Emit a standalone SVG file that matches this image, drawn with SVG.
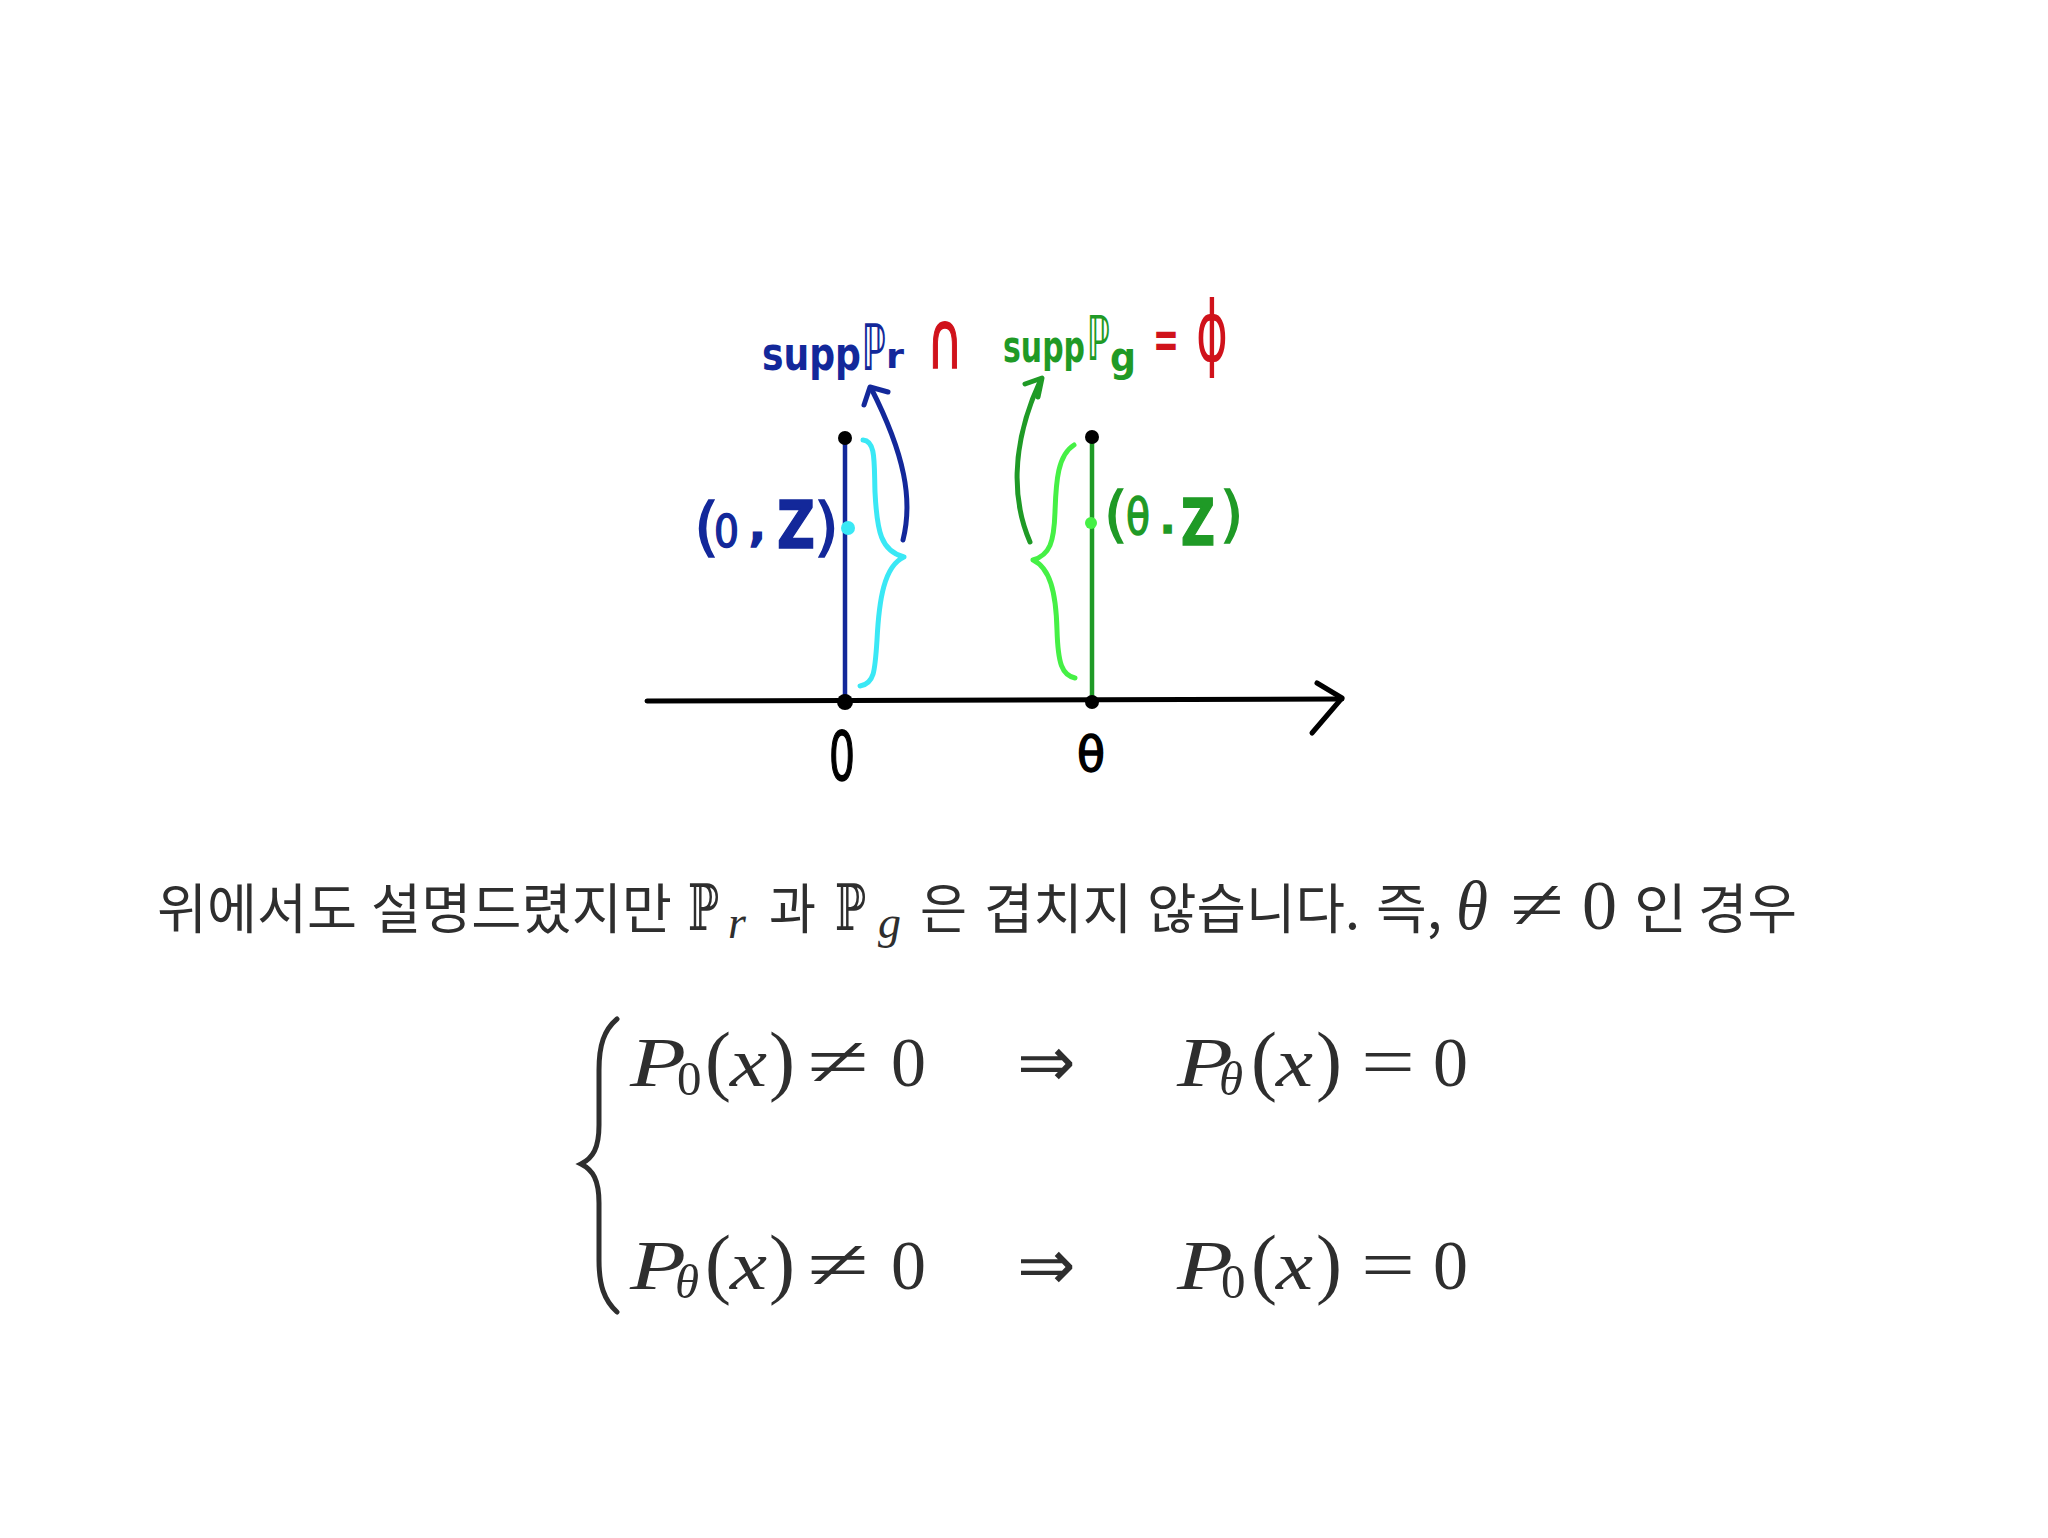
<svg xmlns="http://www.w3.org/2000/svg" width="2048" height="1538" viewBox="0 0 2048 1538">
<style>
.hw{font-family:"DejaVu Sans",sans-serif}
.b{font-weight:bold}
.ko{font-family:"Noto Sans CJK KR","Noto Sans",sans-serif;font-size:54px;fill:#2e2e2e}
.m{font-family:"Liberation Serif",serif;fill:#2e2e2e}
.mi{font-family:"Liberation Serif",serif;font-style:italic;fill:#2e2e2e}
.ms{font-family:"DejaVu Sans",sans-serif;fill:#2e2e2e}
.bb{font-family:"DejaVu Serif",serif;fill:#2e2e2e}
.st{fill:none;stroke-linecap:round;stroke-linejoin:round}
</style>
<rect width="2048" height="1538" fill="#ffffff"/>

<g id="connectors">
  <path class="st" d="M647,701 L1342,699" stroke="#000" stroke-width="5"/>
  <path class="st" d="M1317,683 L1342,698 L1312,733" stroke="#000" stroke-width="5"/>
  <path class="st" d="M845,438 L845,701" stroke="#13289a" stroke-width="4.5"/>
  <path class="st" d="M1092,437 L1092,701" stroke="#1f9a26" stroke-width="4.5"/>
  <path class="st" d="M863,440 C876,441 874,462 875,492 C877,532 881,551 904,557 C884,566 879,600 877,640 C875,672 874,684 860,686" stroke="#3ae8f5" stroke-width="5"/>
  <path class="st" d="M1074,445 C1058,455 1056,480 1055,512 C1054,542 1050,555 1033,560 C1050,568 1056,592 1057,630 C1058,664 1062,675 1075,678" stroke="#45f045" stroke-width="5"/>
  <path class="st" d="M903,540 C913,500 905,455 871,388" stroke="#13289a" stroke-width="5"/>
  <path class="st" d="M864,405 L870,387 L888,392" stroke="#13289a" stroke-width="5"/>
  <path class="st" d="M1030,542 C1014,505 1008,450 1041,379" stroke="#1f9a26" stroke-width="5"/>
  <path class="st" d="M1025,384 L1042,378 L1038,397" stroke="#1f9a26" stroke-width="5"/>
</g>

<g id="node-origin">
  <circle cx="845" cy="438" r="7" fill="#000"/>
  <circle cx="845" cy="702" r="8" fill="#000"/>
  <circle cx="848" cy="528" r="7" fill="#3ae8f5"/>
  <text class="hw" x="829" y="780" font-size="68" textLength="26" lengthAdjust="spacingAndGlyphs" fill="#000" stroke="#000" stroke-width="1.5">0</text>
</g>

<g id="node-theta">
  <circle cx="1092" cy="437" r="7" fill="#000"/>
  <circle cx="1092" cy="702" r="7" fill="#000"/>
  <circle cx="1091" cy="523" r="6" fill="#45f045"/>
  <text class="hw" x="1077" y="771" font-size="48" textLength="28" lengthAdjust="spacingAndGlyphs" fill="#000" stroke="#000" stroke-width="1.5">θ</text>
</g>

<g id="label-0Z" fill="#13289a" stroke="#13289a" stroke-width="1.5">
  <text class="hw" x="694" y="549" font-size="64">(</text>
  <text class="hw" x="714" y="547" font-size="44" textLength="25" lengthAdjust="spacingAndGlyphs">0</text>
  <text class="hw b" x="749" y="541" font-size="44">,</text>
  <text class="hw b" x="777" y="548" font-size="66" textLength="38" lengthAdjust="spacingAndGlyphs">Z</text>
  <text class="hw" x="814" y="549" font-size="64">)</text>
</g>

<g id="label-thetaZ" fill="#1f9a26" stroke="#1f9a26" stroke-width="1.5">
  <text class="hw" x="1104" y="535" font-size="60">(</text>
  <text class="hw" x="1126" y="534" font-size="50" textLength="24" lengthAdjust="spacingAndGlyphs">θ</text>
  <text class="hw b" x="1160" y="533" font-size="40">.</text>
  <text class="hw b" x="1181" y="545" font-size="64" textLength="34" lengthAdjust="spacingAndGlyphs">Z</text>
  <text class="hw" x="1220" y="535" font-size="60">)</text>
</g>

<g id="title">
  <text class="hw b" fill="#13289a"><tspan x="762" y="370" font-size="46" textLength="99" lengthAdjust="spacingAndGlyphs">supp</tspan><tspan x="862" y="370" font-size="64" textLength="24" lengthAdjust="spacingAndGlyphs">ℙ</tspan><tspan x="886" y="368" font-size="34" textLength="18" lengthAdjust="spacingAndGlyphs">r</tspan></text>
  <text class="hw" x="927" y="368" font-size="80" textLength="36" lengthAdjust="spacingAndGlyphs" fill="#d0121b" stroke="#d0121b" stroke-width="1.5">∩</text>
  <text class="hw b" fill="#1f9a26"><tspan x="1003" y="362" font-size="44" textLength="82" lengthAdjust="spacingAndGlyphs">supp</tspan><tspan x="1087" y="360" font-size="62" textLength="23" lengthAdjust="spacingAndGlyphs">ℙ</tspan><tspan x="1110" y="371" font-size="40" textLength="26" lengthAdjust="spacingAndGlyphs">g</tspan></text>
  <text class="hw b" fill="#d0121b"><tspan x="1153" y="358" font-size="54" textLength="26" lengthAdjust="spacingAndGlyphs">=</tspan><tspan x="1196" y="361" font-size="84" textLength="32" lengthAdjust="spacingAndGlyphs" font-weight="normal">ϕ</tspan></text>
</g>

<g id="sentence">
  <text class="ko" x="157" y="929" textLength="200" lengthAdjust="spacingAndGlyphs">위에서도</text>
  <text class="ko" x="371" y="929" textLength="301" lengthAdjust="spacingAndGlyphs">설명드렸지만</text>
  <text class="bb" x="688" y="930" font-size="64" textLength="31" lengthAdjust="spacingAndGlyphs">ℙ</text>
  <text class="mi" x="728" y="938" font-size="46">r</text>
  <text class="ko" x="769" y="929" textLength="47" lengthAdjust="spacingAndGlyphs">과</text>
  <text class="bb" x="835" y="930" font-size="64" textLength="31" lengthAdjust="spacingAndGlyphs">ℙ</text>
  <text class="mi" x="878" y="938" font-size="46">g</text>
  <text class="ko" x="920" y="929" textLength="47" lengthAdjust="spacingAndGlyphs">은</text>
  <text class="ko" x="984" y="929" textLength="148" lengthAdjust="spacingAndGlyphs">겹치지</text>
  <text class="ko" x="1147" y="929" textLength="213" lengthAdjust="spacingAndGlyphs">않습니다.</text>
  <text class="ko" x="1376" y="929" textLength="66" lengthAdjust="spacingAndGlyphs">즉,</text>
  <text class="mi" x="1456" y="929" font-size="70" textLength="32" lengthAdjust="spacingAndGlyphs">θ</text>
  <text class="m" x="1510" y="929" font-size="72" textLength="54" lengthAdjust="spacingAndGlyphs">≠</text>
  <text class="m" x="1582" y="929" font-size="70">0</text>
  <text class="ko" x="1634" y="929" textLength="53" lengthAdjust="spacingAndGlyphs">인</text>
  <text class="ko" x="1698" y="929" textLength="99" lengthAdjust="spacingAndGlyphs">경우</text>
</g>

<g id="cases">
  <path d="M617,1019 C604,1030 599,1045 599,1070 L599,1125 C599,1148 593,1158 581,1164 C593,1170 599,1180 599,1203 L599,1260 C599,1285 604,1300 617,1312" fill="none" stroke="#2e2e2e" stroke-width="5" stroke-linecap="round"/>
  <g id="row1">
    <text class="mi" x="630" y="1086" font-size="70" textLength="56" lengthAdjust="spacingAndGlyphs">P</text>
    <text class="m" x="677" y="1095" font-size="49">0</text>
    <text class="m" x="705" y="1086" font-size="78">(</text>
    <text class="mi" x="730" y="1086" font-size="70" textLength="37" lengthAdjust="spacingAndGlyphs">x</text>
    <text class="m" x="769" y="1086" font-size="78">)</text>
    <text class="m" x="807" y="1086" font-size="72" textLength="62" lengthAdjust="spacingAndGlyphs">≠</text>
    <text class="m" x="891" y="1086" font-size="70">0</text>
    <text class="ms" x="1017" y="1086" font-size="70">⇒</text>
    <text class="mi" x="1177" y="1086" font-size="70" textLength="56" lengthAdjust="spacingAndGlyphs">P</text>
    <text class="mi" x="1219" y="1095" font-size="49">θ</text>
    <text class="m" x="1251" y="1086" font-size="78">(</text>
    <text class="mi" x="1276" y="1086" font-size="70" textLength="37" lengthAdjust="spacingAndGlyphs">x</text>
    <text class="m" x="1316" y="1086" font-size="78">)</text>
    <text class="m" x="1361" y="1086" font-size="72" textLength="54" lengthAdjust="spacingAndGlyphs">=</text>
    <text class="m" x="1433" y="1086" font-size="70">0</text>
  </g>
  <g id="row2">
    <text class="mi" x="630" y="1289" font-size="70" textLength="56" lengthAdjust="spacingAndGlyphs">P</text>
    <text class="mi" x="675" y="1298" font-size="49">θ</text>
    <text class="m" x="705" y="1289" font-size="78">(</text>
    <text class="mi" x="730" y="1289" font-size="70" textLength="37" lengthAdjust="spacingAndGlyphs">x</text>
    <text class="m" x="769" y="1289" font-size="78">)</text>
    <text class="m" x="807" y="1289" font-size="72" textLength="62" lengthAdjust="spacingAndGlyphs">≠</text>
    <text class="m" x="891" y="1289" font-size="70">0</text>
    <text class="ms" x="1017" y="1289" font-size="70">⇒</text>
    <text class="mi" x="1177" y="1289" font-size="70" textLength="56" lengthAdjust="spacingAndGlyphs">P</text>
    <text class="m" x="1221" y="1298" font-size="49">0</text>
    <text class="m" x="1251" y="1289" font-size="78">(</text>
    <text class="mi" x="1276" y="1289" font-size="70" textLength="37" lengthAdjust="spacingAndGlyphs">x</text>
    <text class="m" x="1316" y="1289" font-size="78">)</text>
    <text class="m" x="1361" y="1289" font-size="72" textLength="54" lengthAdjust="spacingAndGlyphs">=</text>
    <text class="m" x="1433" y="1289" font-size="70">0</text>
  </g>
</g>
</svg>
